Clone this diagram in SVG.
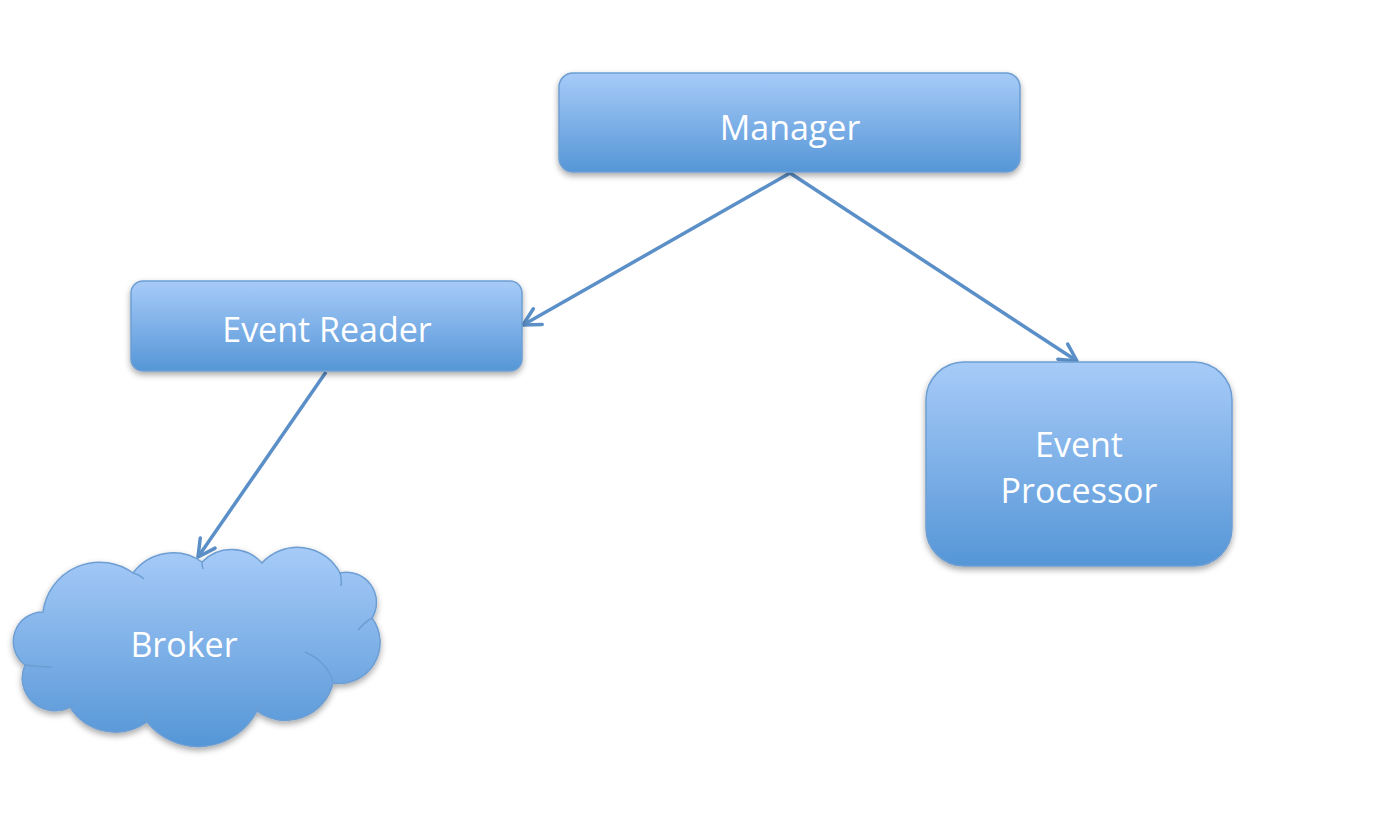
<svg xmlns="http://www.w3.org/2000/svg" width="1386" height="828" viewBox="0 0 1386 828">
<style>
.box{fill:url(#g);stroke:#6d9ed3;stroke-width:1.5;filter:url(#sh)}
.lbl{font-family:"Open Sans","Noto Sans",sans-serif;font-size:34px;fill:#ffffff;text-anchor:middle}
.con{stroke:#5b8fc8;stroke-width:3.5;fill:none;marker-end:url(#ah)}
.inner{fill:none;stroke:#6d9ed3;stroke-width:1.5}
</style>
<defs>
<linearGradient id="g" x1="0" y1="0" x2="0" y2="1">
<stop offset="0" stop-color="#a7cbf8"/>
<stop offset="1" stop-color="#5596d7"/>
</linearGradient>
<filter id="sh" x="-10%" y="-10%" width="120%" height="130%">
<feDropShadow dx="0" dy="3" stdDeviation="3" flood-color="#000" flood-opacity="0.35"/>
</filter>
<marker id="ah" markerUnits="userSpaceOnUse" viewBox="0 0 22 22" refX="20" refY="11" markerWidth="22" markerHeight="22" orient="auto">
<path d="M3,2 L20,11 L3,20" fill="none" stroke="#5b8fc8" stroke-width="3.5" stroke-linecap="round" stroke-linejoin="round"/>
</marker>
</defs>
<rect width="1386" height="828" fill="#ffffff"/>
<g id="connectors">
<line class="con" x1="790" y1="173" x2="523" y2="325"/>
<line class="con" x1="790" y1="173" x2="1077" y2="361"/>
<line class="con" x1="326" y1="372" x2="198" y2="557"/>
</g>
<g id="manager">
<rect class="box" x="559" y="73" width="461" height="99" rx="14"/>
<text class="lbl" x="790" y="140">Manager</text>
</g>
<g id="event-reader">
<rect class="box" x="131" y="281" width="391" height="90" rx="12"/>
<text class="lbl" x="327" y="342">Event Reader</text>
</g>
<g id="event-processor">
<rect class="box" x="926" y="362" width="306" height="204" rx="38"/>
<text class="lbl" x="1079" y="457">Event</text>
<text class="lbl" x="1079" y="503">Processor</text>
</g>
<g id="broker">
<path class="box" d="M43,612 A57,57 0 0 1 133,573 A50,50 0 0 1 202,562 A41,41 0 0 1 262,563 A48,48 0 0 1 340,573 A30,30 0 0 1 372,618 A41,41 0 0 1 333,683 A48.6,48.6 0 0 1 257,711 A66,66 0 0 1 147,722 A54,54 0 0 1 70,707 A32.6,32.6 0 0 1 25,665 A29.5,29.5 0 0 1 43,612 Z"/>
<path class="inner" d="M133,573 Q140,575 144,579 M202,562 Q202,566 203,569 M340,573 Q342,580 341,586 M372,618 Q365,622 358,630 M305,652 Q328,662 333,683 M257,711 Q260,707 262,704 M147,722 Q145,718 146,714 M70,707 Q72,704 74,702 M25,665 Q40,667 52,667"/>
<text class="lbl" x="184" y="657">Broker</text>
</g>
</svg>
